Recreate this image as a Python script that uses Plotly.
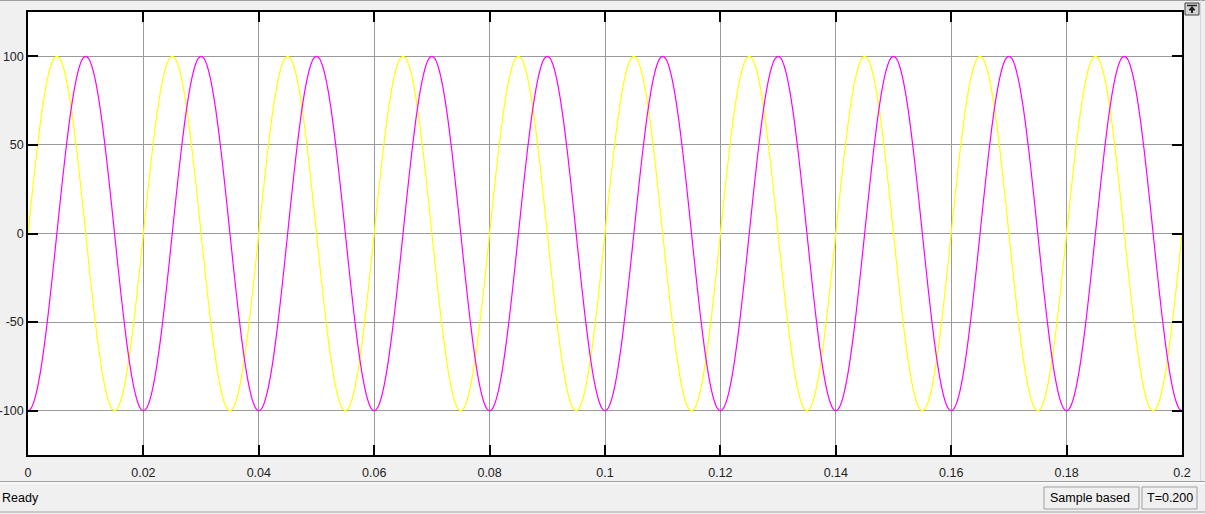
import plotly.graph_objects as go

# ---- data ----
sample_time = 0.0005          # s between samples
n_cycles = 10                 # 50 Hz over 0.2 s
# one period (0.02 s, 40 samples) of each trace
yellow_cycle = [0, 15.64, 30.90, 45.40, 58.78, 70.71, 80.90, 89.10, 95.11, 98.77,
                100, 98.77, 95.11, 89.10, 80.90, 70.71, 58.78, 45.40, 30.90, 15.64,
                0, -15.64, -30.90, -45.40, -58.78, -70.71, -80.90, -89.10, -95.11, -98.77,
                -100, -98.77, -95.11, -89.10, -80.90, -70.71, -58.78, -45.40, -30.90, -15.64]
magenta_cycle = [-100, -98.77, -95.11, -89.10, -80.90, -70.71, -58.78, -45.40, -30.90, -15.64,
                 0, 15.64, 30.90, 45.40, 58.78, 70.71, 80.90, 89.10, 95.11, 98.77,
                 100, 98.77, 95.11, 89.10, 80.90, 70.71, 58.78, 45.40, 30.90, 15.64,
                 0, -15.64, -30.90, -45.40, -58.78, -70.71, -80.90, -89.10, -95.11, -98.77]
yellow_end = 0
magenta_end = -100

x_tick_vals = [0, 0.02, 0.04, 0.06, 0.08, 0.1, 0.12, 0.14, 0.16, 0.18, 0.2]
x_tick_text = ["0", "0.02", "0.04", "0.06", "0.08", "0.1", "0.12", "0.14", "0.16", "0.18", "0.2"]
y_tick_vals = [-100, -50, 0, 50, 100]
y_tick_text = ["-100", "-50", "0", "50", "100"]

yellow = yellow_cycle * n_cycles + [yellow_end]
magenta = magenta_cycle * n_cycles + [magenta_end]
t = [i * sample_time for i in range(len(yellow))]

# ---- geometry helpers (pixel -> paper) ----
W, H = 1205, 514
L, R, T, B = 28, 1182, 12, 455
def px(x):
    return (x - L) / (R - L)
def py(y):
    return (B - y) / (B - T)

fig = go.Figure()
fig.add_trace(go.Scatter(x=t, y=yellow, mode="lines", line=dict(color="#ffff00", width=1.2, shape="spline"),
                         hoverinfo="skip", showlegend=False))
fig.add_trace(go.Scatter(x=t, y=magenta, mode="lines", line=dict(color="#ff00ff", width=1.2, shape="spline"),
                         hoverinfo="skip", showlegend=False))

axis_common = dict(showgrid=True, gridcolor="#9a9a9a", gridwidth=1, zeroline=False, automargin=False,
                   showline=True, linecolor="black", linewidth=1.5, mirror="ticks",
                   ticks="inside", ticklen=10, tickcolor="black", tickwidth=1.5,
                   tickfont=dict(family="Liberation Sans", size=12.5, color="#222"))

fig.update_xaxes(range=[0, 0.2], tickvals=x_tick_vals, ticktext=x_tick_text,
                 ticklabelstandoff=5, **axis_common)
fig.update_yaxes(range=[-125, 125], tickvals=y_tick_vals, ticktext=y_tick_text,
                 ticklabelstandoff=0, **axis_common)

shapes = []
# top border line
shapes.append(dict(type="line", xref="paper", yref="paper", x0=px(0), x1=px(W), y0=py(0.5), y1=py(0.5),
                   line=dict(color="#a0a0a0", width=1)))
# right divider
shapes.append(dict(type="line", xref="paper", yref="paper", x0=px(1200.5), x1=px(1200.5), y0=py(0), y1=py(481),
                   line=dict(color="#d8d8d8", width=1)))
# status bar separator
shapes.append(dict(type="line", xref="paper", yref="paper", x0=px(0), x1=px(W), y0=py(481.5), y1=py(481.5),
                   line=dict(color="#a0a0a0", width=1)))
shapes.append(dict(type="line", xref="paper", yref="paper", x0=px(0), x1=px(W), y0=py(483), y1=py(483),
                   line=dict(color="#ffffff", width=1)))
shapes.append(dict(type="line", xref="paper", yref="paper", x0=px(0), x1=px(W), y0=py(512), y1=py(512),
                   line=dict(color="#a0a0a0", width=1)))
# status boxes
for x0, x1 in [(1044, 1139), (1142, 1197)]:
    shapes.append(dict(type="rect", xref="paper", yref="paper", x0=px(x0), x1=px(x1), y0=py(487), y1=py(509),
                       line=dict(color="#a0a0a0", width=1), fillcolor="#f0f0f0"))
# top-right button
shapes.append(dict(type="rect", xref="paper", yref="paper", x0=px(1185), x1=px(1199), y0=py(3), y1=py(15),
                   line=dict(color="#404040", width=1), fillcolor="#d4d4d4"))
shapes.append(dict(type="line", xref="paper", yref="paper", x0=px(1187), x1=px(1197), y0=py(5.5), y1=py(5.5),
                   line=dict(color="#202020", width=1.5)))
shapes.append(dict(type="path", xref="paper", yref="paper",
                   path=f"M {px(1192)} {py(6.5)} L {px(1189)} {py(10)} L {px(1195)} {py(10)} Z",
                   line=dict(color="#202020", width=1), fillcolor="#202020"))
shapes.append(dict(type="line", xref="paper", yref="paper", x0=px(1192), x1=px(1192), y0=py(10), y1=py(13),
                   line=dict(color="#202020", width=2)))

annotations = [
    dict(text="Ready", x=px(0), y=py(498), xref="paper", yref="paper", xanchor="left", yanchor="middle",
         showarrow=False, font=dict(family="Liberation Sans", size=12.5, color="#000")),
    dict(text="Sample based", x=px(1048), y=py(498), xref="paper", yref="paper", xanchor="left", yanchor="middle",
         showarrow=False, font=dict(family="Liberation Sans", size=12.5, color="#000")),
    dict(text="T=0.200", x=px(1145), y=py(498), xref="paper", yref="paper", xanchor="left", yanchor="middle",
         showarrow=False, font=dict(family="Liberation Sans", size=12.5, color="#000")),
]

fig.update_layout(width=W, height=H, autosize=False,
                  margin=dict(l=L, r=W - R, t=T, b=H - B, pad=0),
                  paper_bgcolor="#f0f0f0", plot_bgcolor="#ffffff",
                  shapes=shapes, annotations=annotations, showlegend=False)

fig.write_html("out.html", config={"displayModeBar": False},
               post_script="document.body.style.margin='0';document.body.style.background='#f0f0f0';")
